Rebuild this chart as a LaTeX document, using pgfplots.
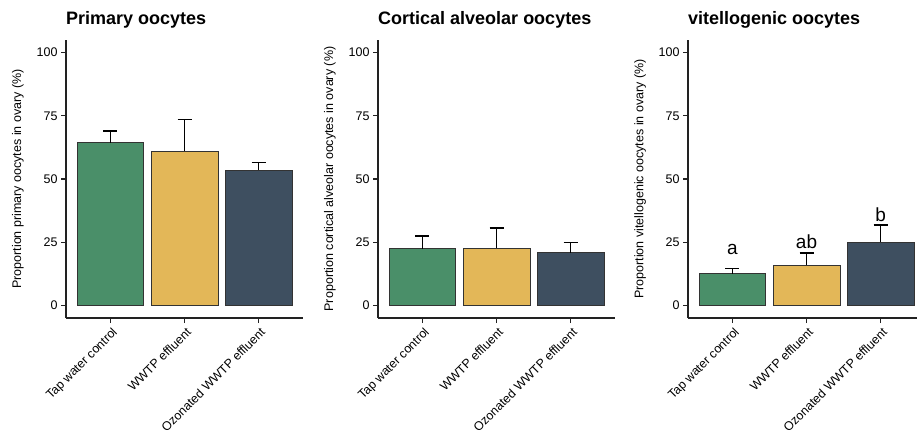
\documentclass[border=0pt]{standalone}
\usepackage{pgfplots}
\pgfplotsset{compat=1.18}
\usepackage{fontspec}
\setmainfont{Liberation Sans}
\definecolor{cgreen}{HTML}{4A8F69}
\definecolor{cyellow}{HTML}{E3B758}
\definecolor{cdark}{HTML}{3E4F60}
\definecolor{axcol}{HTML}{222222}
\definecolor{edgecol}{HTML}{333333}

\pgfplotsset{
 eb/.style={draw=none, fill=none, line width=1.8pt,
    error bars/.cd, y dir=plus, y explicit,
    error bar style={draw=black, line width=1.8pt},
    error mark=|,
    error mark options={draw=black, line width=1.6pt, mark size=7pt}},
 panel/.style={
  scale only axis, width=237pt, height=278pt,
  xmin=0.4, xmax=3.6, ymin=-5, ymax=105,
  axis x line*=bottom, axis y line*=left,
  axis line style={line width=1.4pt, color=axcol},
  xtick={1,2,3},
  xticklabels={Tap water control, WWTP effluent, Ozonated WWTP effluent},
  ytick={0,25,50,75,100},
  tick align=outside, major tick length=5pt,
  tick style={line width=1.1pt, color=axcol},
  xticklabel style={xshift=1pt, yshift=-2pt, rotate=45, anchor=north east, font=\fontsize{12.4}{14}\selectfont, inner sep=1pt},
  yticklabel style={font=\fontsize{12.5}{14}\selectfont},
  /pgf/number format/assume math mode=true,
  ylabel style={at={(axis description cs:-0.2025,0.5)}, anchor=center, font=\fontsize{12.5}{15}\selectfont},
  title style={at={(axis description cs:0,1)}, anchor=base west, inner sep=0pt, yshift=9.7pt, font=\bfseries\fontsize{18}{21}\selectfont},
  anchor=south west,
  clip=false,
  ybar, bar width=0.9,
  every axis plot/.append style={bar shift=0pt},
 }
}

\begin{document}
\begin{tikzpicture}[x=1pt,y=1pt]
\path[use as bounding box] (0,0) rectangle (917,436);

\begin{axis}[panel, at={(66pt,118pt)},
  title={Primary oocytes},
  ylabel={Proportion primary oocytes in ovary (\%)}]
\addplot[fill=cgreen, draw=edgecol, line width=0.6pt] coordinates {(1,64.4)};
\addplot[fill=cyellow, draw=edgecol, line width=0.6pt] coordinates {(2,61.0)};
\addplot[fill=cdark, draw=edgecol, line width=0.6pt] coordinates {(3,53.5)};
\addplot[eb] coordinates {(1,64.4) +- (0,4.6) (2,61.0) +- (0,12.6) (3,53.5) +- (0,3.0)};
\end{axis}

\begin{axis}[panel, at={(378pt,118pt)},
  title={Cortical alveolar oocytes},
  ylabel={Proportion cortical alveolar oocytes in ovary (\%)}]
\addplot[fill=cgreen, draw=edgecol, line width=0.6pt] coordinates {(1,22.4)};
\addplot[fill=cyellow, draw=edgecol, line width=0.6pt] coordinates {(2,22.7)};
\addplot[fill=cdark, draw=edgecol, line width=0.6pt] coordinates {(3,20.8)};
\addplot[eb] coordinates {(1,22.4) +- (0,5.1) (2,22.7) +- (0,7.9) (3,20.8) +- (0,4.0)};
\end{axis}

\begin{axis}[panel, at={(688pt,118pt)},
  title={vitellogenic oocytes},
  ylabel={Proportion vitellogenic oocytes in ovary (\%)}]
\addplot[fill=cgreen, draw=edgecol, line width=0.6pt] coordinates {(1,12.6)};
\addplot[fill=cyellow, draw=edgecol, line width=0.6pt] coordinates {(2,15.8)};
\addplot[fill=cdark, draw=edgecol, line width=0.6pt] coordinates {(3,25.0)};
\addplot[eb] coordinates {(1,12.6) +- (0,2.0) (2,15.8) +- (0,5.0) (3,25.0) +- (0,6.9)};
\node[anchor=base, font=\fontsize{19}{22}\selectfont] at (axis cs:1,20.2) {a};
\node[anchor=base, font=\fontsize{19}{22}\selectfont] at (axis cs:2,22.6) {ab};
\node[anchor=base, font=\fontsize{19}{22}\selectfont] at (axis cs:3,33.3) {b};
\end{axis}
\end{tikzpicture}
\end{document}
